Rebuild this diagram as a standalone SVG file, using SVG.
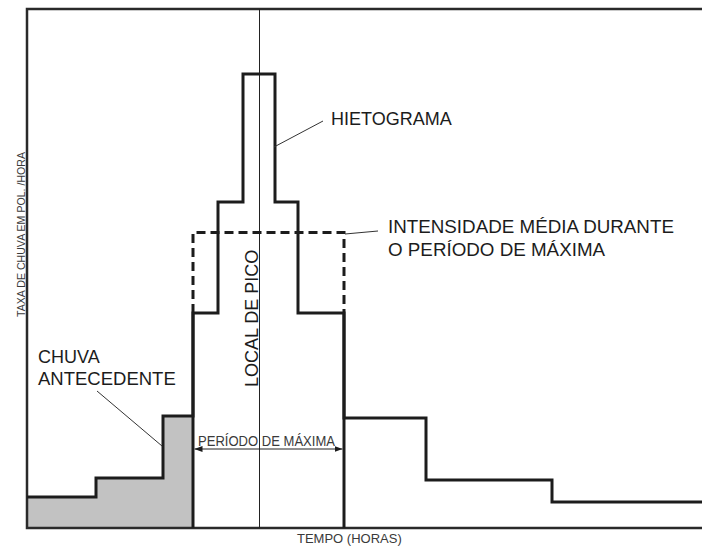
<svg xmlns="http://www.w3.org/2000/svg" width="702" height="546" viewBox="0 0 702 546">
<style>
.frame{fill:none;stroke:#2a2a2a;stroke-width:2.5}
.thick{fill:none;stroke:#1c1c1c;stroke-width:3}
.dash{fill:none;stroke:#1c1c1c;stroke-width:3;stroke-dasharray:9 5}
.thin{fill:none;stroke:#222;stroke-width:1}
.lead{fill:none;stroke:#333;stroke-width:1}
.lbl{font-family:"Liberation Sans",Arial,sans-serif;fill:#1c1c1c}
.small{font-family:"Liberation Sans",Arial,sans-serif;fill:#3a3a3a}
</style>
<defs>
<marker id="ah" viewBox="0 0 8 6" refX="8" refY="3" markerWidth="8" markerHeight="6" markerUnits="userSpaceOnUse" orient="auto-start-reverse">
<path d="M0,0 L8,3 L0,6 Z" fill="#1c1c1c"/>
</marker>
</defs>
<rect width="702" height="546" fill="#ffffff"/>
<g id="gray-area">
<polygon points="27,497 96,497 96,478 163,478 163,416 193,416 193,528 27,528" fill="#c2c2c2"/>
</g>
<g id="frame">
<path class="frame" d="M702,9 H27 V528 H702"/>
</g>
<g id="peak-line">
<line class="thin" x1="259.5" y1="9" x2="259.5" y2="528"/>
</g>
<g id="hietograma">
<path class="thick" d="M27,497 H96 V478 H163 V416 H193 V313 H218 V202 H243 V74 H275 V202 H298 V313 H344 V418 H426 V480 H552 V502 H702"/>
<line class="thick" x1="193" y1="313" x2="193" y2="528"/>
<line class="thick" x1="344" y1="313" x2="344" y2="528"/>
</g>
<g id="media">
<path class="dash" d="M193,313 V232.5 H344 V313"/>
</g>
<g id="connectors">
<line class="lead" x1="274" y1="147" x2="323" y2="121"/>
<line class="lead" x1="345" y1="234" x2="378" y2="231"/>
<line class="lead" x1="97" y1="391" x2="162" y2="446"/>
<line class="thin" x1="194.5" y1="449" x2="342.5" y2="449" marker-start="url(#ah)" marker-end="url(#ah)"/>
</g>
<g id="labels">
<text class="lbl" x="331" y="125" font-size="18">HIETOGRAMA</text>
<text class="lbl" x="388" y="233" font-size="18.8">INTENSIDADE MÉDIA DURANTE</text>
<text class="lbl" x="388" y="256" font-size="18.8">O PERÍODO DE MÁXIMA</text>
<text class="lbl" x="38" y="363" font-size="18">CHUVA</text>
<text class="lbl" x="38" y="385" font-size="18.5">ANTECEDENTE</text>
<text class="lbl" transform="translate(258,387) rotate(-90)" font-size="18">LOCAL DE PICO</text>
<text class="small" x="198" y="446" font-size="14.5" textLength="137" lengthAdjust="spacingAndGlyphs">PERÍODO DE MÁXIMA</text>
<text class="small" x="297" y="543" font-size="13">TEMPO (HORAS)</text>
<text class="small" transform="translate(24.5,317) rotate(-90)" font-size="10.6">TAXA DE CHUVA EM POL. /HORA</text>
</g>
</svg>
